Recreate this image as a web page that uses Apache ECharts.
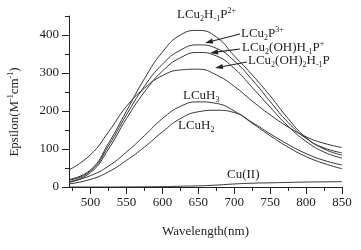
<!DOCTYPE html>
<html>
<head>
<meta charset="utf-8">
<script src="https://cdn.jsdelivr.net/npm/echarts@6/dist/echarts.min.js"></script>
<style>
  html, body { margin: 0; padding: 0; background: #fff; }
  #chart { width: 361px; height: 250px; }
</style>
</head>
<body>
<div id="chart"></div>
<script>
// wavelength (nm) and epsilon values
var wavelength = [470, 500, 525, 550, 575, 600, 625, 650, 675, 700, 725, 750, 775, 800, 825, 850];
var lcu2h1p   = [20, 45, 115, 200, 285, 355, 400, 412, 395, 345, 295, 240, 180, 130, 100, 84];
var lcu2p     = [18, 42, 108, 190, 265, 323, 360, 374, 365, 332, 282, 225, 170, 128, 103, 90];
var lcu2ohh1p = [14, 38, 100, 180, 250, 305, 340, 354, 345, 312, 262, 210, 160, 120, 92, 76];
var lcu2oh2   = [45, 85, 145, 212, 260, 293, 308, 310, 295, 265, 226, 190, 158, 132, 115, 104];
var lcuh3     = [12, 30, 55, 92, 135, 180, 212, 224, 220, 200, 168, 135, 105, 80, 62, 48];
var lcuh2     = [8, 20, 40, 70, 105, 145, 180, 198, 202, 196, 170, 140, 112, 88, 70, 58];
var cu2       = [0, 0, 0, 0.2, 0.5, 1, 2, 3, 5, 8, 10, 11, 12, 13, 13.5, 14];

var xMajor = [500, 550, 600, 650, 700, 750, 800, 850];
var xMinor = [475, 525, 575, 625, 675, 725, 775, 825];
var yMajor = [0, 100, 200, 300, 400];
var yMinor = [50, 150, 250, 350, 450];

var FONT = '"Liberation Serif", "DejaVu Serif", serif';
var INK = '#222';

function pairs(ys) {
  return wavelength.map(function (w, i) { return [w, ys[i]]; });
}

function lineSeries(name, ys) {
  return {
    name: name,
    type: 'line',
    data: pairs(ys),
    smooth: true,
    showSymbol: false,
    silent: true,
    lineStyle: { color: '#333', width: 1 }
  };
}

var richStyle = {
  sub: { fontSize: 8, lineHeight: 8, verticalAlign: 'bottom', fontFamily: FONT, fill: INK },
  sup: { fontSize: 8, lineHeight: 8, verticalAlign: 'top', fontFamily: FONT, fill: INK }
};

function label(text, x, y, align) {
  return {
    type: 'text',
    x: x, y: y,
    silent: true,
    style: {
      text: text,
      fontSize: 13,
      lineHeight: 16,
      fontFamily: FONT,
      fill: INK,
      align: align || 'left',
      verticalAlign: 'middle',
      rich: richStyle
    }
  };
}

function arrow(x1, y1, x2, y2) {
  var ang = Math.atan2(y2 - y1, x2 - x1);
  var len = 8, half = 2.6;
  var bx = x2 - len * Math.cos(ang), by = y2 - len * Math.sin(ang);
  var px = -Math.sin(ang) * half, py = Math.cos(ang) * half;
  return {
    type: 'group',
    silent: true,
    children: [
      { type: 'line', shape: { x1: x1, y1: y1, x2: bx, y2: by }, style: { stroke: INK, lineWidth: 1.2 } },
      { type: 'polygon', shape: { points: [[x2, y2], [bx + px, by + py], [bx - px, by - py]] }, style: { fill: INK } }
    ]
  };
}

var chart = echarts.init(document.getElementById('chart'));

var option = {
  animation: false,
  backgroundColor: '#fff',
  grid: { left: 69, right: 19, top: 16, bottom: 63, containLabel: false, outerBoundsMode: 'none' },
  xAxis: [{
    type: 'value',
    min: 470, max: 850,
    name: 'Wavelength(nm)',
    nameLocation: 'middle',
    nameGap: 38,
    nameTextStyle: { fontFamily: FONT, fontSize: 13, color: INK },
    axisLine: { lineStyle: { color: INK, width: 1 } },
    axisTick: { customValues: xMajor, length: 7, lineStyle: { color: INK } },
    axisLabel: { customValues: xMajor, fontFamily: FONT, fontSize: 13, color: INK, margin: 9 },
    splitLine: { show: false }
  }, {
    type: 'value',
    min: 470, max: 850,
    position: 'bottom',
    axisLine: { show: false },
    axisTick: { customValues: xMinor, length: 4, lineStyle: { color: INK } },
    axisLabel: { show: false },
    splitLine: { show: false }
  }],
  yAxis: [{
    type: 'value',
    min: 0, max: 450,
    axisLine: { show: true, lineStyle: { color: INK, width: 1 } },
    axisTick: { show: true, customValues: yMajor, length: 7, lineStyle: { color: INK } },
    axisLabel: { customValues: yMajor, fontFamily: FONT, fontSize: 13, color: INK, margin: 10 },
    splitLine: { show: false }
  }, {
    type: 'value',
    min: 0, max: 450,
    position: 'left',
    offset: 0,
    axisLine: { show: false },
    axisTick: { show: true, customValues: yMinor, length: 4, lineStyle: { color: INK } },
    axisLabel: { show: false },
    splitLine: { show: false }
  }],
  series: [
    lineSeries('LCu2H-1P2+', lcu2h1p),
    lineSeries('LCu2P3+', lcu2p),
    lineSeries('LCu2(OH)H-1P+', lcu2ohh1p),
    lineSeries('LCu2(OH)2H-1P', lcu2oh2),
    lineSeries('LCuH3', lcuh3),
    lineSeries('LCuH2', lcuh2),
    lineSeries('Cu(II)', cu2)
  ],
  graphic: [
    {
      type: 'text',
      x: 15, y: 112,
      rotation: Math.PI / 2,
      silent: true,
      style: {
        text: 'Epsilon(M{sup|-1}cm{sup|-1})',
        fontSize: 13, lineHeight: 16, fontFamily: FONT, fill: INK,
        align: 'center', verticalAlign: 'middle',
        rich: richStyle
      }
    },
    label('LCu{sub|2}H{sub|-1}P{sup|2+}', 177, 15),
    label('LCu{sub|2}P{sup|3+}', 241, 34),
    label('LCu{sub|2}(OH)H{sub|-1}P{sup|+}', 242, 48),
    label('LCu{sub|2}(OH){sub|2}H{sub|-1}P', 248, 61),
    label('LCuH{sub|3}', 183, 96),
    label('LCuH{sub|2}', 178, 126),
    label('Cu(II)', 227, 175),
    arrow(240, 34, 205, 43),
    arrow(240, 49, 210, 53),
    arrow(247, 62, 215, 68)
  ]
};

chart.setOption(option);
</script>
</body>
</html>
